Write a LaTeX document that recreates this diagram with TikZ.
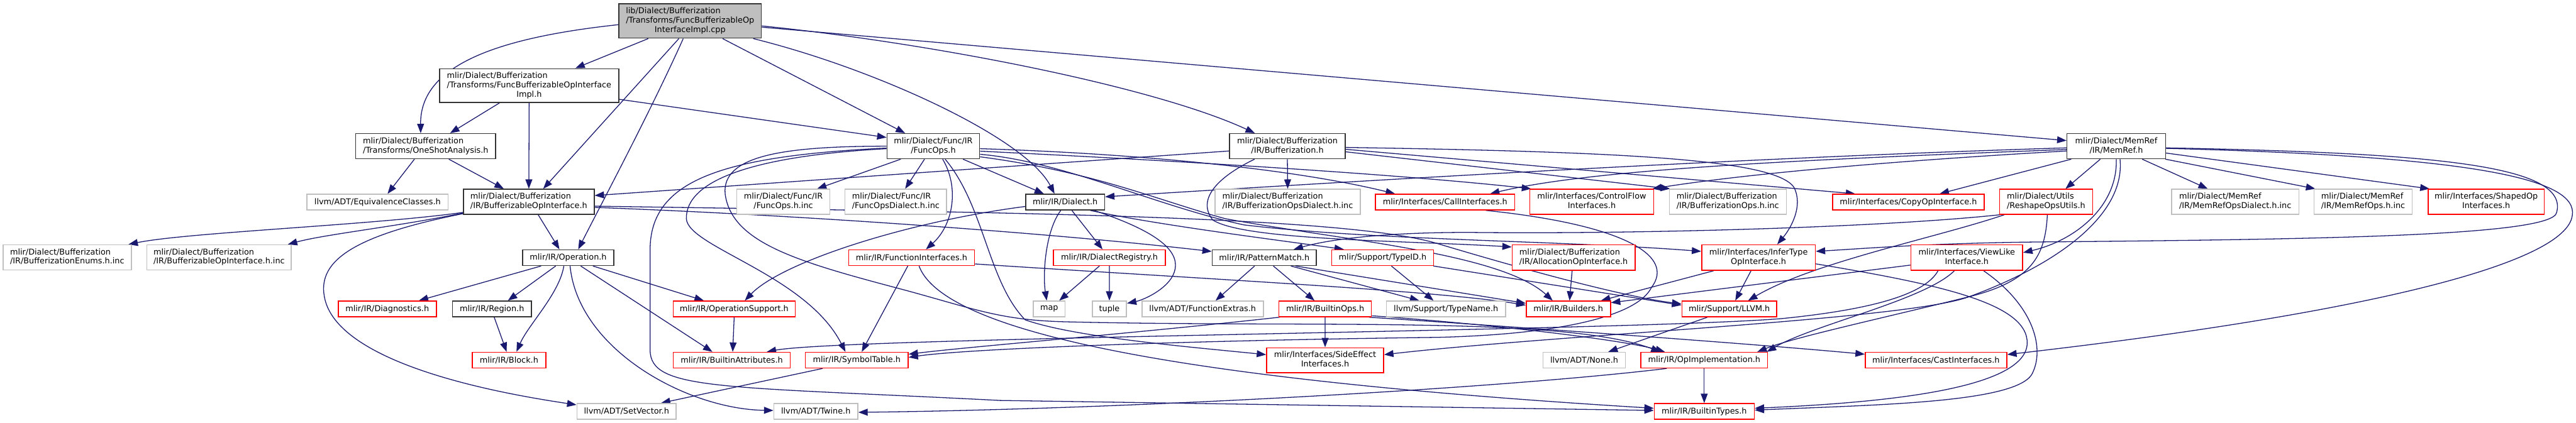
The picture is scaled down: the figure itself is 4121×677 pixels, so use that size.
\documentclass[tikz,border=0pt]{standalone}
\usepackage{fontspec}
\newfontfamily\dvs{DejaVu Sans}
\usetikzlibrary{arrows.meta}
\definecolor{cedge}{HTML}{191970}
\definecolor{cred}{HTML}{FF0000}
\definecolor{cgray}{HTML}{BFBFBF}
\definecolor{cblk}{HTML}{333333}
\pgfdeclarelayer{bg}\pgfdeclarelayer{edges}
\pgfsetlayers{bg,edges,main}
\newcommand\lA[2]{\begin{tabular}{@{}l@{}}#1\\\multicolumn{1}{@{}c@{}}{#2}\end{tabular}}
\newcommand\lB[3]{\begin{tabular}{@{}l@{}}#1\\#2\\\multicolumn{1}{@{}c@{}}{#3}\end{tabular}}
\newcommand\mknode[7]{%
  \pgfmathsetmacro\mkcx{(#2+#4)/2}%
  \pgfmathsetmacro\mkcy{(#3+#5)/2}%
  \pgfmathsetmacro\mkw{#4-#2}%
  \pgfmathsetmacro\mkh{#5-#3}%
  \node[#6, minimum width=\mkw pt, minimum height=\mkh pt] (#1) at (\mkcx,\mkcy) {#7};%
}
\tikzset{
  nb/.style={draw=cblk, line width=1.6pt, inner sep=0pt, fill=white, text=black,
     font=\dvs\fontsize{12.9}{15}\selectfont},
  nr/.style={nb, draw=cred},
  ng/.style={nb, draw=cgray},
  nroot/.style={nb, draw=cblk, fill=cgray},
  edg/.style={draw=cedge, line width=1.3pt, -{Triangle[length=15pt,width=11pt]}},
}
\begin{document}
\begin{tikzpicture}[x=1pt,y=-1pt]
\begin{pgfonlayer}{bg}\fill[white] (0,0) rectangle (4121,677);\end{pgfonlayer}
\useasboundingbox (0,0) rectangle (4121,677);
\mknode{root}{990}{6}{1218}{61}{nroot}{\lB{lib/Dialect/Bufferization}{/Transforms/FuncBufferizableOp}{InterfaceImpl.cpp}}
\mknode{impl}{703}{110}{990}{164}{nb}{\lB{mlir/Dialect/Bufferization}{/Transforms/FuncBufferizableOpInterface}{Impl.h}}
\mknode{oneshot}{569}{214}{793}{254}{nb}{\lA{mlir/Dialect/Bufferization}{/Transforms/OneShotAnalysis.h}}
\mknode{equiv}{491}{311}{717}{336}{ng}{llvm/ADT/EquivalenceClasses.h}
\mknode{boi}{741.5}{303}{950.5}{343}{nb}{\lA{mlir/Dialect/Bufferization}{/IR/BufferizableOpInterface.h}}
\mknode{enums}{5}{392}{210}{432}{ng}{\lA{mlir/Dialect/Bufferization}{/IR/BufferizationEnums.h.inc}}
\mknode{boiinc}{235}{392}{466}{432}{ng}{\lA{mlir/Dialect/Bufferization}{/IR/BufferizableOpInterface.h.inc}}
\mknode{operation}{836}{400}{982}{425}{nb}{mlir/IR/Operation.h}
\mknode{diag}{541}{482}{698}{507}{nr}{mlir/IR/Diagnostics.h}
\mknode{region}{724}{482}{850}{507}{nb}{mlir/IR/Region.h}
\mknode{block}{755.5}{564}{873}{589}{nr}{mlir/IR/Block.h}
\mknode{setvector}{923}{646}{1081.7}{671}{ng}{llvm/ADT/SetVector.h}
\mknode{funcops}{1419}{214}{1567}{254}{nb}{\lA{mlir/Dialect/Func/IR}{/FuncOps.h}}
\mknode{funcopsinc}{1178.6}{303}{1327.7}{343}{ng}{\lA{mlir/Dialect/Func/IR}{/FuncOps.h.inc}}
\mknode{funcopsdi}{1351.8}{303}{1514.3}{343}{ng}{\lA{mlir/Dialect/Func/IR}{/FuncOpsDialect.h.inc}}
\mknode{dialect}{1641}{311}{1767}{336}{nb}{mlir/IR/Dialect.h}
\mknode{bufz}{1967}{214}{2152}{254}{nb}{\lA{mlir/Dialect/Bufferization}{/IR/Bufferization.h}}
\mknode{bufopsdi}{1944}{303}{2176}{343}{ng}{\lA{mlir/Dialect/Bufferization}{/IR/BufferizationOpsDialect.h.inc}}
\mknode{callif}{2200.4}{311}{2423.2}{336}{nr}{mlir/Interfaces/CallInterfaces.h}
\mknode{controlflow}{2447.3}{303}{2645.5}{343}{nr}{\lA{mlir/Interfaces/ControlFlow}{Interfaces.h}}
\mknode{bufopsinc}{2670.5}{303}{2857.6}{343}{ng}{\lA{mlir/Dialect/Bufferization}{/IR/BufferizationOps.h.inc}}
\mknode{copyop}{2931.7}{311}{3174.1}{336}{nr}{mlir/Interfaces/CopyOpInterface.h}
\mknode{memref}{3306.7}{214}{3464.3}{254}{nb}{\lA{mlir/Dialect/MemRef}{/IR/MemRef.h}}
\mknode{reshape}{3198.7}{303}{3347.8}{343}{nr}{\lA{mlir/Dialect/Utils}{/ReshapeOpsUtils.h}}
\mknode{memrefopsdi}{3474}{303}{3677.7}{343}{ng}{\lA{mlir/Dialect/MemRef}{/IR/MemRefOpsDialect.h.inc}}
\mknode{memrefopsinc}{3701.8}{303}{3859}{343}{ng}{\lA{mlir/Dialect/MemRef}{/IR/MemRefOps.h.inc}}
\mknode{shapedop}{3884.5}{303}{4070}{343}{nr}{\lA{mlir/Interfaces/ShapedOp}{Interfaces.h}}
\mknode{funcif}{1357.6}{400}{1558.9}{425}{nr}{mlir/IR/FunctionInterfaces.h}
\mknode{dialectreg}{1685.3}{400}{1864.3}{425}{nr}{mlir/IR/DialectRegistry.h}
\mknode{patternmatch}{1939.3}{400}{2105.8}{425}{nb}{mlir/IR/PatternMatch.h}
\mknode{typeid}{2130.4}{400}{2293.3}{425}{nr}{mlir/Support/TypeID.h}
\mknode{allocif}{2419.2}{392}{2615.6}{432.7}{nr}{\lA{mlir/Dialect/Bufferization}{/IR/AllocationOpInterface.h}}
\mknode{infertype}{2722.3}{392}{2904}{432.7}{nr}{\lA{mlir/Interfaces/InferType}{OpInterface.h}}
\mknode{viewlike}{3057}{392}{3235.7}{432.7}{nr}{\lA{mlir/Interfaces/ViewLike}{Interface.h}}
\mknode{opsupport}{1077}{482}{1272}{507}{nr}{mlir/IR/OperationSupport.h}
\mknode{map}{1653}{482}{1704}{507}{ng}{map}
\mknode{tuple}{1747.3}{482}{1802.2}{507}{ng}{tuple}
\mknode{funcextras}{1826.8}{482}{2021}{507}{ng}{llvm/ADT/FunctionExtras.h}
\mknode{builtinops}{2046}{482}{2193.8}{507}{nr}{mlir/IR/BuiltinOps.h}
\mknode{typename}{2218}{482}{2408.5}{507}{ng}{llvm/Support/TypeName.h}
\mknode{builders}{2441.5}{482}{2576.3}{507}{nr}{mlir/IR/Builders.h}
\mknode{llvm}{2690.6}{482}{2842.4}{507}{nr}{mlir/Support/LLVM.h}
\mknode{builtinattrs}{1077}{564}{1264.3}{589}{nr}{mlir/IR/BuiltinAttributes.h}
\mknode{symtab}{1288.4}{564}{1452.7}{589}{nr}{mlir/IR/SymbolTable.h}
\mknode{sideeffect}{2026.3}{556.7}{2213.4}{596.7}{nr}{\lA{mlir/Interfaces/SideEffect}{Interfaces.h}}
\mknode{none}{2468.3}{564}{2600.4}{589}{ng}{llvm/ADT/None.h}
\mknode{opimpl}{2625}{564}{2827.7}{589}{nr}{mlir/IR/OpImplementation.h}
\mknode{castif}{2984}{564}{3210.3}{589}{nr}{mlir/Interfaces/CastInterfaces.h}
\mknode{twine}{1238}{646}{1372.3}{671}{ng}{llvm/ADT/Twine.h}
\mknode{builtintypes}{2646.4}{646}{2806.3}{671}{nr}{mlir/IR/BuiltinTypes.h}

\begin{pgfonlayer}{edges}
% root
\draw[edg] ([xshift=-67pt]root.south) -- ([xshift=74pt]impl.north);
\draw[edg] ([yshift=-6pt]root.west) .. controls (780,62) and (672,110) .. ([xshift=-8pt]oneshot.north);
\draw[edg] ([xshift=-18pt]root.south) -- ([xshift=23pt]boi.north);
\draw[edg] ([xshift=-11pt]root.south) .. controls (1040,180) and (960,330) .. ([xshift=16pt]operation.north);
\draw[edg] ([xshift=52pt]root.south) -- ([xshift=-45pt]funcops.north);
\draw[edg] ([xshift=101pt]root.south) .. controls (1400,110) and (1640,220) .. ([xshift=-17pt]dialect.north);
\draw[edg] ([yshift=-8pt]root.east) .. controls (1500,70) and (1850,140) .. ([xshift=-52pt]bufz.north);
\draw[edg] ([yshift=-10pt]root.east) -- ([yshift=9pt]memref.west);
% impl
\draw[edg] ([xshift=-47.5pt]impl.south) -- ([xshift=39pt]oneshot.north);
\draw[edg] (impl.south) -- (boi.north);
\draw[edg] ([yshift=-22pt]impl.east) -- ([yshift=14pt]funcops.west);
% oneshot
\draw[edg] ([xshift=-18pt]oneshot.south) -- ([xshift=16pt]equiv.north);
\draw[edg] ([xshift=37pt]oneshot.south) -- ([xshift=-40pt]boi.north);
% boi
\draw[edg] ([yshift=-17pt]boi.west) .. controls (600,360) and (300,372) .. ([xshift=98pt]enums.north);
\draw[edg] ([yshift=-18pt]boi.west) .. controls (640,362) and (520,375) .. ([xshift=110pt]boiinc.north);
\draw[edg] ([yshift=-19pt]boi.west) .. controls (560,378) and (505,420) .. (520,480) .. controls (540,560) and (700,615) .. ([yshift=10.5pt]setvector.west);
\draw[edg] ([xshift=15pt]boi.south) -- ([xshift=-14pt]operation.north);
\draw[edg] ([yshift=-9pt]boi.east) .. controls (1300,345) and (1700,375) .. ([yshift=10pt]patternmatch.west);
\draw[edg] ([yshift=-7pt]boi.east) .. controls (1600,340) and (2150,345) .. (2300,390) .. controls (2450,435) and (2600,475) .. ([yshift=8pt]llvm.west);
% funcops
\draw[edg] ([xshift=-52pt]funcops.south) -- ([xshift=54pt]funcopsinc.north);
\draw[edg] ([xshift=-14pt]funcops.south) -- ([xshift=15pt]funcopsdi.north);
\draw[edg] ([xshift=47.5pt]funcops.south) -- ([xshift=-34pt]dialect.north);
\draw[edg] ([xshift=15pt]funcops.south) .. controls (1535,300) and (1525,360) .. ([xshift=23pt]funcif.north);
\draw[edg] ([xshift=19pt]funcops.south) .. controls (1575,330) and (1580,450) .. (1640,512) .. controls (1720,540) and (1900,555) .. ([yshift=9pt]sideeffect.west);
\draw[edg] (funcops.west) .. controls (1250,234) and (1155,250) .. (1160,310) .. controls (1170,390) and (1280,420) .. (1450,465) .. controls (1560,495) and (1600,512) .. (1700,515) .. controls (2100,525) and (2500,505) .. ([xshift=-70pt]opimpl.north);
\draw[edg] ([yshift=-3pt]funcops.west) .. controls (1150,250) and (1040,290) .. (1040,400) -- (1040,560) .. controls (1040,625) and (1150,618) .. (1600,641) -- ([yshift=1.5pt]builtintypes.west);
\draw[edg] ([yshift=-4pt]funcops.west) .. controls (1200,250) and (1097,290) .. (1098,350) .. controls (1100,395) and (1290,440) .. ([xshift=-18pt]symtab.north);
\draw[edg] ([yshift=-4pt]funcops.east) .. controls (1800,245) and (2060,268) .. ([xshift=-80pt]callif.north);
\draw[edg] ([yshift=-8pt]funcops.east) .. controls (1900,258) and (2250,280) .. ([xshift=3pt]controlflow.north west);
\draw[edg] ([yshift=-13pt]funcops.east) .. controls (1700,258) and (1850,330) .. (1990,360) .. controls (2200,385) and (2500,385) .. ([yshift=10pt]infertype.west);
\draw[edg] ([yshift=-17pt]funcops.east) .. controls (1750,275) and (1850,320) .. (1960,350) .. controls (2150,385) and (2400,405) .. ([xshift=-25pt]builders.north);
% bufferization.h
\draw[edg] ([yshift=-7.7pt]bufz.west) -- ([yshift=10pt]boi.east);
\draw[edg] (bufz.south) -- (bufopsdi.north);
\draw[edg] ([xshift=-52.5pt]bufz.south) .. controls (1945,285) and (1915,320) .. (1940,352) .. controls (1990,385) and (2250,385) .. ([yshift=17pt]allocif.west);
\draw[edg] ([yshift=-2pt]bufz.east) .. controls (2600,243) and (2840,255) .. (2870,300) .. controls (2885,330) and (2865,365) .. ([xshift=30pt]infertype.north);
\draw[edg] ([yshift=-5pt]bufz.east) -- ([xshift=-85pt]copyop.north);
\draw[edg] ([yshift=-9pt]bufz.east) -- ([xshift=2pt]bufopsinc.north west);
% memref
\draw[edg] ([yshift=-2.7pt]memref.west) .. controls (2800,252) and (2200,288) .. ([yshift=8.5pt]dialect.east);
\draw[edg] ([yshift=-5.3pt]memref.west) .. controls (2900,255) and (2550,270) .. ([xshift=72pt]callif.north);
\draw[edg] ([yshift=-7.7pt]memref.west) .. controls (2950,262) and (2750,285) .. ([xshift=-3pt]controlflow.north east);
\draw[edg] ([xshift=-72pt]memref.south) -- ([xshift=50pt]copyop.north);
\draw[edg] ([xshift=-25.5pt]memref.south) -- ([xshift=31pt]reshape.north);
\draw[edg] (memref.south) .. controls (3388,330) and (3320,385) .. ([yshift=8pt]viewlike.east);
\draw[edg] ([xshift=6pt]memref.south) .. controls (3400,340) and (3300,420) .. (3150,475) .. controls (3050,512) and (2500,535) .. ([yshift=9pt]sideeffect.east);
\draw[edg] ([xshift=41.5pt]memref.south) -- ([xshift=-44pt]memrefopsdi.north);
\draw[edg] ([xshift=-1pt]memref.south east) -- ([xshift=3pt]memrefopsinc.north west);
\draw[edg] ([yshift=-11pt]memref.east) -- ([xshift=3pt]shapedop.north west);
\draw[edg] ([yshift=-2.7pt]memref.east) .. controls (3900,245) and (4110,265) .. (4090,340) .. controls (4085,378) and (3700,383) .. (3300,387) .. controls (3100,388) and (2980,398) .. ([yshift=10pt]infertype.east);
\draw[edg] ([yshift=-3.5pt]memref.east) .. controls (3950,250) and (4125,285) .. (4115,345) .. controls (4105,420) and (3800,500) .. ([yshift=9pt]castif.east);
% reshape
\draw[edg] ([xshift=1pt]reshape.south west) .. controls (3000,365) and (2600,375) .. (2350,372) .. controls (2200,372) and (2120,385) .. ([xshift=47pt]patternmatch.north);
\draw[edg] ([xshift=-67pt]reshape.south) .. controls (3100,380) and (2900,420) .. ([xshift=30pt]llvm.north);
\draw[edg] ([xshift=2pt]reshape.south) .. controls (3272,410) and (3250,450) .. (3150,475) .. controls (3000,512) and (2870,540) .. ([xshift=85pt]opimpl.north);
% viewlike
\draw[edg] ([yshift=-12pt]viewlike.west) -- ([yshift=10pt]builders.east);
\draw[edg] ([xshift=-46pt]viewlike.south) .. controls (3080,470) and (3000,495) .. (2850,510) .. controls (2600,530) and (1350,540) .. ([xshift=56pt]builtinattrs.north);
\draw[edg] ([xshift=-20pt]viewlike.south) .. controls (3080,480) and (2900,520) .. ([xshift=-2pt]opimpl.north east);
\draw[edg] ([xshift=27pt]viewlike.south) .. controls (3255,490) and (3272,560) .. (3250,600) .. controls (3220,645) and (3000,648) .. ([yshift=2pt]builtintypes.east);
% infertype
\draw[edg] ([yshift=-10pt]infertype.east) .. controls (3100,455) and (3245,485) .. (3243,550) .. controls (3240,625) and (3000,645) .. ([yshift=5pt]builtintypes.east);
\draw[edg] ([xshift=-72pt]infertype.south) -- ([xshift=-16pt]builders.north east);
\draw[edg] ([xshift=-12pt]infertype.south) -- ([xshift=9.5pt]llvm.north);
\draw[edg] ([xshift=-2.4pt]allocif.south) -- ([xshift=2pt]builders.north);
% typeid
\draw[edg] ([xshift=14pt]typeid.south) -- ([xshift=-20pt]typename.north);
\draw[edg] ([xshift=-1pt]typeid.south east) -- ([yshift=6pt]llvm.west);
% patternmatch
\draw[edg] ([xshift=-15.5pt]patternmatch.south) -- ([xshift=20.7pt]funcextras.north);
\draw[edg] ([xshift=14.5pt]patternmatch.south) -- ([xshift=-17pt]builtinops.north);
\draw[edg] ([xshift=42.5pt]patternmatch.south) -- ([xshift=-42.75pt]typename.north);
\draw[edg] ([xshift=50pt]patternmatch.south) -- ([yshift=9pt]builders.west);
% funcif
\draw[edg] ([yshift=-10pt]funcif.east) .. controls (1900,445) and (2300,465) .. ([yshift=6pt]builders.west);
\draw[edg] ([xshift=-6pt]funcif.south) -- ([xshift=8pt]symtab.north);
\draw[edg] ([xshift=12pt]funcif.south) .. controls (1520,560) and (2100,620) .. ([yshift=5pt]builtintypes.west);
% builtinops
\draw[edg] (builtinops.south) -- (sideeffect.north);
\draw[edg] ([xshift=-73pt]builtinops.south) .. controls (1800,535) and (1550,555) .. ([yshift=9.5pt]symtab.east);
\draw[edg] ([yshift=-11pt]builtinops.east) .. controls (2400,520) and (2600,545) .. ([xshift=-63pt]opimpl.north);
\draw[edg] ([xshift=70pt]builtinops.south) .. controls (2450,525) and (2800,550) .. ([yshift=9.5pt]castif.west);
% opimpl, llvm, symtab, callif
\draw[edg] (opimpl.south) -- (builtintypes.north);
\draw[edg] ([xshift=-60pt]opimpl.south) .. controls (2400,622) and (1800,655) .. ([yshift=-1.5pt]twine.east);
\draw[edg] ([xshift=-35pt]llvm.south) -- ([xshift=38.5pt]none.north);
\draw[edg] ([xshift=-54.5pt]symtab.south) -- ([xshift=55pt]setvector.north);
\draw[edg] ([xshift=65pt]callif.south) .. controls (2600,360) and (2680,410) .. (2642,460) .. controls (2620,505) and (2500,535) .. (2300,540) .. controls (1900,545) and (1550,558) .. ([yshift=4.5pt]symtab.east);
% dialect
\draw[edg] ([xshift=-7pt]dialect.south) .. controls (1672,370) and (1668,440) .. ([xshift=-4pt]map.north);
\draw[edg] ([xshift=10.7pt]dialect.south) -- ([xshift=-11pt]dialectreg.north);
\draw[edg] ([xshift=46pt]dialect.south) .. controls (1850,370) and (1885,400) .. (1880,430) .. controls (1875,460) and (1830,480) .. ([yshift=9pt]tuple.east);
\draw[edg] ([xshift=40pt]dialect.south) .. controls (1850,360) and (2050,385) .. ([xshift=-62pt]typeid.north);
\draw[edg] ([yshift=-7pt]dialect.west) .. controls (1450,355) and (1250,420) .. ([xshift=17pt]opsupport.north);
\draw[edg] ([xshift=-16pt]dialectreg.south) -- ([xshift=16pt]map.north);
\draw[edg] (dialectreg.south) -- (tuple.north);
% operation
\draw[edg] ([xshift=-43.4pt]operation.south) -- ([xshift=50.5pt]diag.north);
\draw[edg] ([xshift=-20pt]operation.south) -- ([xshift=25.5pt]region.north);
\draw[edg] ([xshift=-7pt]operation.south) .. controls (895,470) and (845,520) .. ([xshift=12pt]block.north);
\draw[edg] ([xshift=39.5pt]operation.south) -- ([xshift=-48.5pt]opsupport.north);
\draw[edg] ([xshift=20pt]operation.south) -- ([xshift=-31pt]builtinattrs.north);
\draw[edg] ([xshift=3pt]operation.south) .. controls (925,560) and (1100,655) .. ([yshift=1.5pt]twine.west);
\draw[edg] ([xshift=3.6pt]region.south) -- ([xshift=-3.75pt]block.north);
\draw[edg] (opsupport.south) -- ([xshift=1.5pt]builtinattrs.north);
\end{pgfonlayer}
\end{tikzpicture}
\end{document}
